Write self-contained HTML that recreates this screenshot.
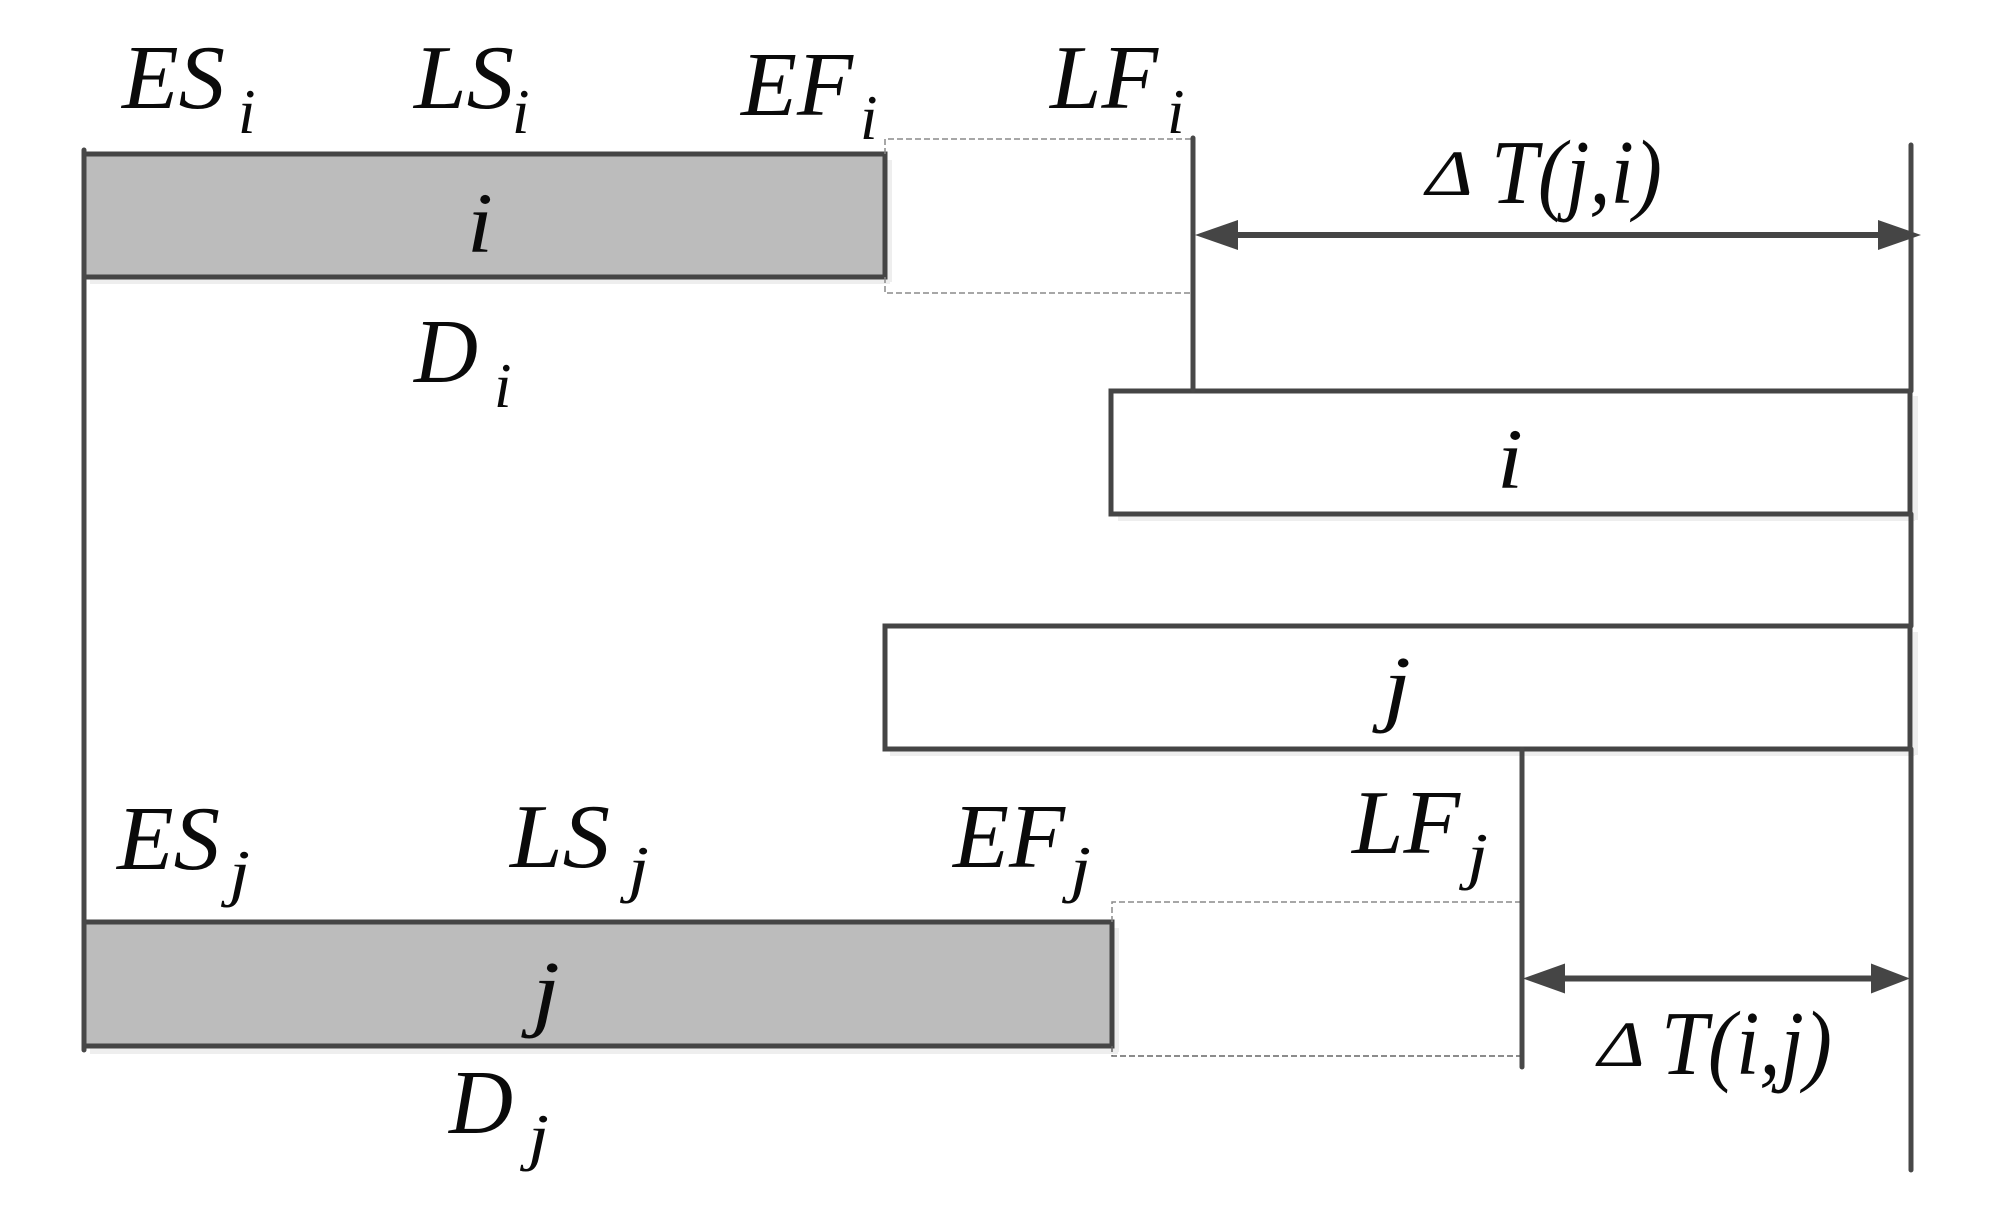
<!DOCTYPE html>
<html>
<head>
<meta charset="utf-8">
<style>
html,body{margin:0;padding:0;background:#fff;width:2000px;height:1207px;overflow:hidden}
svg{display:block}
text{font-family:"Liberation Serif",serif;font-style:italic;fill:#0a0a0a}
.m{font-size:91px}
.c{font-size:86px}
.s{font-size:63px}
.d{font-size:65px}
</style>
</head>
<body>
<svg width="2000" height="1207" viewBox="0 0 2000 1207" xmlns="http://www.w3.org/2000/svg">
<rect width="2000" height="1207" fill="#fff"/>
<!-- soft shadows -->
<g fill="#eeeeee">
<rect x="90" y="279" width="800" height="5"/>
<rect x="887" y="160" width="5" height="122"/>
<rect x="1118" y="516" width="797" height="5"/>
<rect x="1913" y="396" width="5" height="124"/>
<rect x="890" y="751" width="1025" height="5"/>
<rect x="1913" y="632" width="5" height="123"/>
<rect x="90" y="1048" width="1028" height="6"/>
<rect x="1114" y="928" width="5" height="124"/>
</g>
<!-- bars -->
<g stroke="#454545" stroke-width="5">
<rect x="84" y="154" width="801" height="123" fill="#bcbcbc"/>
<rect x="1111" y="391" width="799" height="123" fill="#fff"/>
<rect x="885" y="626" width="1025" height="123" fill="#fff"/>
<rect x="84" y="922" width="1028" height="124" fill="#bcbcbc"/>
</g>
<!-- dashed guides -->
<g stroke="#8a8a8a" stroke-width="1.5" stroke-dasharray="6 3" fill="none">
<path d="M885 154V139H1193"/>
<path d="M885 277V293H1193"/>
<path d="M1112 922V902H1522"/>
<path d="M1112 1046V1056H1522" stroke="#666"/>
</g>
<!-- vertical lines -->
<g stroke="#484848" stroke-width="5" fill="none" stroke-linecap="round">
<path d="M84 150V1050"/>
<path d="M1193 138V390"/>
<path d="M1911 145V391M1911 514V626M1911 749V1170"/>
<path d="M1522 749V1067"/>
</g>
<!-- arrows -->
<g fill="#454545" stroke="none">
<rect x="1230" y="232" width="655" height="6"/>
<path d="M1195 235L1238 220V250Z"/>
<path d="M1921 235L1878 220V250Z"/>
<rect x="1560" y="975.5" width="320" height="6"/>
<path d="M1523 978.500L1565 963.500V993.500Z"/>
<path d="M1910 978.500L1871 963.500V993.500Z"/>
</g>
<!-- labels -->
<text class="m" x="122" y="108" textLength="103" lengthAdjust="spacingAndGlyphs">ES</text>
<text class="s" x="238" y="133">i</text>
<text class="m" x="414" y="108" textLength="100" lengthAdjust="spacingAndGlyphs">LS</text>
<text class="s" x="512" y="133">i</text>
<text class="m" x="741" y="115" textLength="112" lengthAdjust="spacingAndGlyphs">EF</text>
<text class="s" x="860" y="139">i</text>
<text class="m" x="1050" y="108" textLength="108" lengthAdjust="spacingAndGlyphs">LF</text>
<text class="s" x="1167" y="133">i</text>
<text class="c" x="467" y="252" textLength="26" lengthAdjust="spacingAndGlyphs">i</text>
<text class="m" x="414" y="382" textLength="64" lengthAdjust="spacingAndGlyphs">D</text>
<text class="s" x="494" y="407">i</text>
<text class="d" x="1426" y="195" textLength="47" lengthAdjust="spacingAndGlyphs">Δ</text>
<text class="m" x="1491" y="203" textLength="171" lengthAdjust="spacingAndGlyphs">T(j,i)</text>
<text class="c" x="1497" y="488" textLength="26" lengthAdjust="spacingAndGlyphs">i</text>
<text class="c" x="1383" y="715" textLength="28" lengthAdjust="spacingAndGlyphs">j</text>
<text class="m" x="117" y="869" textLength="103" lengthAdjust="spacingAndGlyphs">ES</text>
<text class="s" x="229" y="894" textLength="21" lengthAdjust="spacingAndGlyphs">j</text>
<text class="m" x="510" y="867" textLength="100" lengthAdjust="spacingAndGlyphs">LS</text>
<text class="s" x="628" y="890" textLength="21" lengthAdjust="spacingAndGlyphs">j</text>
<text class="m" x="953" y="867" textLength="112" lengthAdjust="spacingAndGlyphs">EF</text>
<text class="s" x="1070" y="890" textLength="21" lengthAdjust="spacingAndGlyphs">j</text>
<text class="m" x="1352" y="853" textLength="108" lengthAdjust="spacingAndGlyphs">LF</text>
<text class="s" x="1467" y="877" textLength="21" lengthAdjust="spacingAndGlyphs">j</text>
<text class="c" x="532" y="1020" textLength="28" lengthAdjust="spacingAndGlyphs">j</text>
<text class="m" x="449" y="1133" textLength="64" lengthAdjust="spacingAndGlyphs">D</text>
<text class="s" x="528" y="1158" textLength="21" lengthAdjust="spacingAndGlyphs">j</text>
<text class="d" x="1598" y="1066" textLength="47" lengthAdjust="spacingAndGlyphs">Δ</text>
<text class="m" x="1661" y="1074" textLength="171" lengthAdjust="spacingAndGlyphs">T(i,j)</text>
</svg>
</body>
</html>
